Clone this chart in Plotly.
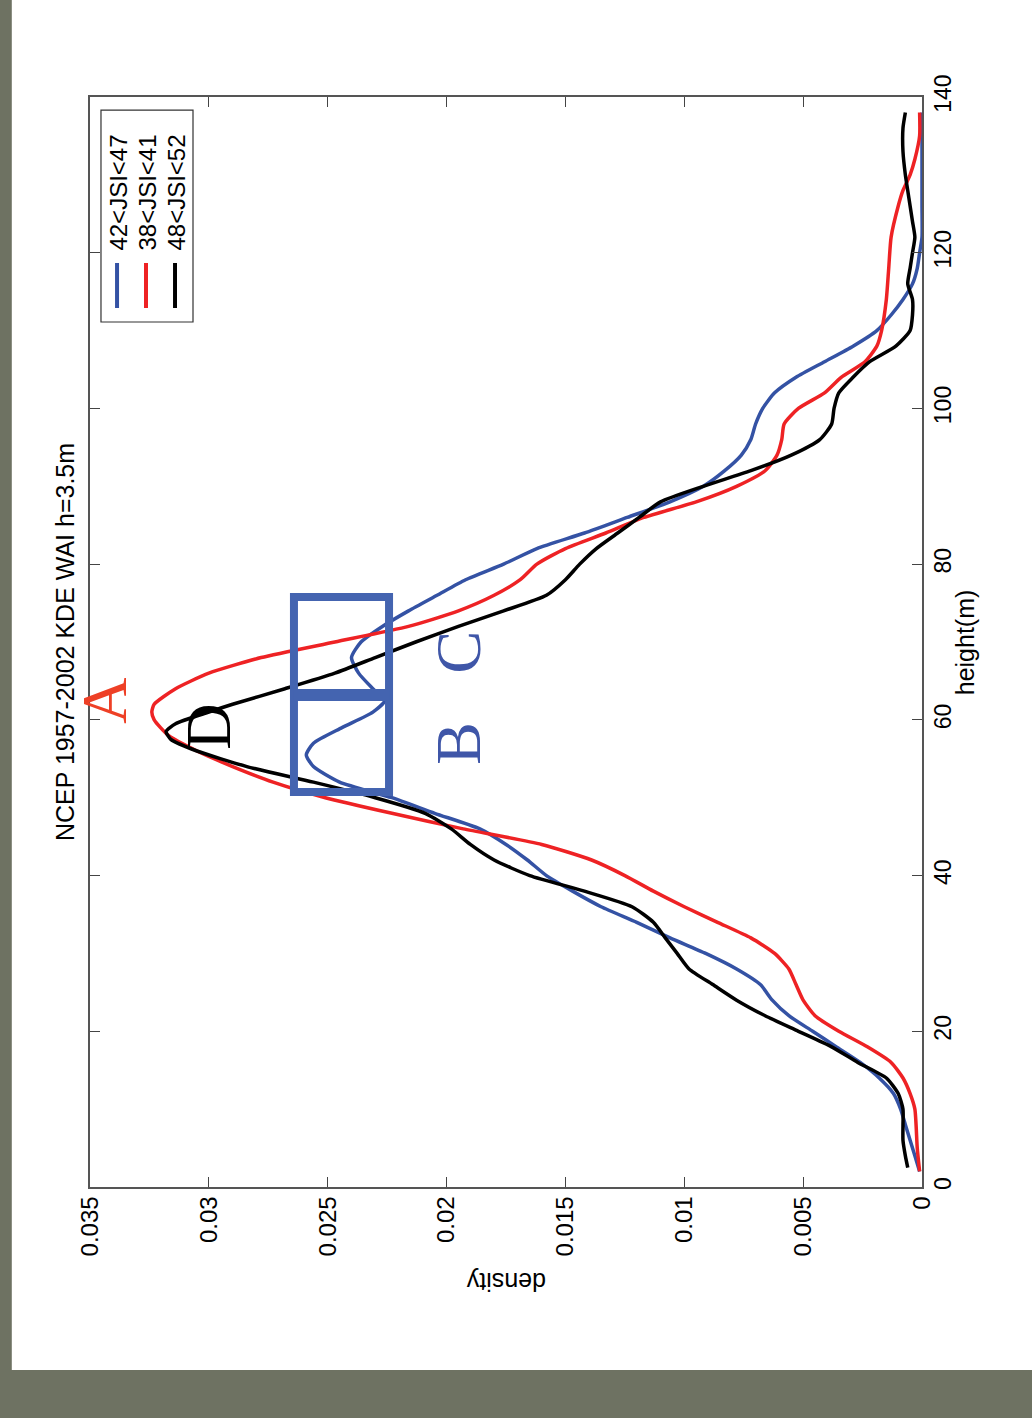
import plotly.graph_objects as go

# ---- data (height in m, density) ----
blue_h = [2, 4, 6, 8, 10, 12, 14, 16, 18, 20, 22, 24, 26, 28, 30, 32, 34, 36, 38, 40, 42, 44, 46, 48, 50, 52, 54, 55.5, 57, 59, 61, 62.5, 64, 66, 68, 70, 72, 74, 76, 78, 80, 82, 84, 86, 88, 90, 92, 94, 96, 98, 100, 102, 104, 106, 108, 110, 112, 114, 116, 118, 120, 122, 126, 130, 134, 138]
blue_d = [0.0001, 0.0003, 0.0005, 0.0007, 0.0009, 0.0012, 0.0018, 0.0026, 0.0036, 0.0046, 0.0056, 0.0063, 0.0068, 0.0078, 0.0091, 0.0106, 0.0120, 0.0135, 0.0147, 0.0158, 0.0166, 0.0175, 0.0186, 0.0205, 0.0223, 0.0245, 0.0256, 0.0259, 0.0256, 0.0244, 0.0231, 0.0226, 0.0231, 0.0237, 0.0240, 0.0236, 0.0227, 0.0216, 0.0204, 0.0192, 0.0176, 0.0162, 0.0142, 0.0124, 0.0106, 0.0092, 0.0083, 0.0076, 0.0072, 0.0070, 0.0067, 0.0062, 0.0053, 0.0041, 0.0029, 0.0019, 0.0013, 0.0008, 0.0004, 0.0002, 0.0001, 0.0, 0.0, 0.0, 0.0, 0.0]

red_h = [2, 5, 10, 12, 14, 16, 18, 20, 22, 24, 26, 28, 30, 32, 34, 36, 38, 40, 42, 44, 46, 48, 50, 52, 54, 56, 58, 60, 61, 62, 64, 66, 68, 70, 72, 74, 76, 78, 80, 82, 84, 86, 88, 90, 92, 94, 96, 98, 100, 102, 104, 106, 108, 110, 114, 118, 122, 126, 128, 130, 132, 135, 138]
red_d = [0.0001, 0.0002, 0.0003, 0.0005, 0.0008, 0.0013, 0.0023, 0.0035, 0.0045, 0.0050, 0.0053, 0.0056, 0.0062, 0.0072, 0.0086, 0.0100, 0.0113, 0.0125, 0.0139, 0.0160, 0.0193, 0.0223, 0.0251, 0.0273, 0.0290, 0.0305, 0.0317, 0.0323, 0.0324, 0.0323, 0.0314, 0.0300, 0.0278, 0.0247, 0.0216, 0.0195, 0.0180, 0.0169, 0.0162, 0.0150, 0.0133, 0.0117, 0.0095, 0.0078, 0.0066, 0.0061, 0.0059, 0.0058, 0.0052, 0.0041, 0.0034, 0.0024, 0.0019, 0.0017, 0.0015, 0.0014, 0.0013, 0.0010, 0.0008, 0.0005, 0.0003, 0.0001, 0.0001]

black_h = [2.5, 4, 6, 8, 10, 12, 14, 16, 18, 20, 22, 24, 26, 28, 30, 32, 34, 36, 38, 40, 42, 44, 46, 48, 50, 52, 54, 56, 57.5, 58.5, 59.5, 61, 62, 64, 66, 68, 70, 72, 74, 76, 78, 80, 82, 84, 86, 88, 90, 92, 94, 96, 98, 100, 102, 104, 106, 108, 110, 112, 114, 116, 118, 120, 122, 124, 126, 128, 130, 133, 136, 138]
black_d = [0.0006, 0.0007, 0.0008, 0.0008, 0.0008, 0.0010, 0.0015, 0.0027, 0.0038, 0.0052, 0.0066, 0.0078, 0.0088, 0.0098, 0.0103, 0.0108, 0.0113, 0.0122, 0.0142, 0.0165, 0.0180, 0.0190, 0.0198, 0.0209, 0.0230, 0.0256, 0.0284, 0.0305, 0.0316, 0.0318, 0.0314, 0.0300, 0.0290, 0.0268, 0.0247, 0.0230, 0.0213, 0.0195, 0.0176, 0.0158, 0.0150, 0.0144, 0.0137, 0.0128, 0.0119, 0.0110, 0.0092, 0.0072, 0.0055, 0.0043, 0.0038, 0.0037, 0.0035, 0.0029, 0.0022, 0.0011, 0.0005, 0.0004, 0.0004, 0.0006, 0.0005, 0.0004, 0.0003, 0.0004, 0.0005, 0.0006, 0.0007, 0.0008, 0.0008, 0.0007]

series_names = ["42<JSI<47", "38<JSI<41", "48<JSI<52"]
series_colors = ["#3452a4", "#ee2224", "#000000"]

density_ticks = [0.035, 0.03, 0.025, 0.02, 0.015, 0.01, 0.005, 0]
density_ticktext = ["0.035", "0.03", "0.025", "0.02", "0.015", "0.01", "0.005", "0"]
height_ticks = [0, 20, 40, 60, 80, 100, 120, 140]

title_text = "NCEP 1957-2002 KDE WAI h=3.5m"
xlabel = "height(m)"
ylabel = "density"

# annotation letters (density, height)
letters = [("A", 0.0344, 62.5, "#ee4026"), ("D", 0.0300, 59.1, "#000000"),
           ("B", 0.0195, 57.0, "#3f56a8"), ("C", 0.0195, 68.7, "#3f56a8")]
box_d = [0.02642, 0.02242]
box_h = [50.73, 63.2, 75.78]

FONT = "Liberation Sans, Arial, sans-serif"
GRAY = "#6e7262"
BOXBLUE = "#4464b0"

fig = go.Figure()
for h, d, c in [(blue_h, blue_d, series_colors[0]), (red_h, red_d, series_colors[1]), (black_h, black_d, series_colors[2])]:
    fig.add_trace(go.Scatter(x=d, y=h, mode="lines", showlegend=False, hoverinfo="skip",
                             line=dict(color=c, width=3.5, shape="spline", smoothing=0.6)))

shapes = []
# white page over gray background
shapes.append(dict(type="rect", xref="paper", yref="paper", x0=-0.094, x1=1.14, y0=-0.168, y1=1.1,
                   fillcolor="white", line=dict(width=0), layer="below"))
# blue boxes
shapes.append(dict(type="rect", xref="x", yref="y", x0=box_d[0], x1=box_d[1], y0=box_h[0], y1=box_h[2],
                   line=dict(color=BOXBLUE, width=8)))
shapes.append(dict(type="line", xref="x", yref="y", x0=box_d[0], x1=box_d[1], y0=box_h[1], y1=box_h[1],
                   line=dict(color=BOXBLUE, width=12)))
# legend box
shapes.append(dict(type="rect", xref="paper", yref="paper", x0=0.0132, x1=0.1238, y0=0.7936, y1=0.988,
                   line=dict(color="#333333", width=1.2), fillcolor="white"))
leg_x = [0.0325, 0.0673, 0.1022]
for lx, c in zip(leg_x, series_colors):
    shapes.append(dict(type="line", xref="paper", yref="paper", x0=lx, x1=lx, y0=0.8064, y1=0.8477,
                       line=dict(color=c, width=4)))

annotations = []
for lx, name in zip(leg_x, series_names):
    annotations.append(dict(text=name, xref="paper", yref="paper", x=lx + 0.002, y=0.857,
                            xanchor="center", yanchor="bottom", textangle=-90, showarrow=False,
                            font=dict(family=FONT, size=24, color="black")))
for t, d, h, c in letters:
    annotations.append(dict(text=t, xref="x", yref="y", x=d, y=h, textangle=-90, showarrow=False,
                            xanchor="center", yanchor="middle",
                            font=dict(family="Liberation Serif, Times New Roman, serif", size=64, color=c)))
annotations.append(dict(text=title_text, xref="paper", yref="paper", x=-0.030, y=0.5, textangle=-90,
                        showarrow=False, xanchor="center", yanchor="middle",
                        font=dict(family=FONT, size=25, color="black")))
annotations.append(dict(text=xlabel, xref="paper", yref="paper", x=1.052, y=0.5, textangle=-90,
                        showarrow=False, xanchor="center", yanchor="middle",
                        font=dict(family=FONT, size=25, color="black")))
annotations.append(dict(text=ylabel, xref="paper", yref="paper", x=0.5, y=-0.087, textangle=180,
                        showarrow=False, xanchor="center", yanchor="middle",
                        font=dict(family=FONT, size=25, color="black")))

fig.update_layout(
    width=1032, height=1418,
    margin=dict(l=90, r=110, t=97, b=231, pad=0),
    paper_bgcolor=GRAY, plot_bgcolor="white",
    shapes=shapes, annotations=annotations, showlegend=False,
    xaxis=dict(range=[0.035, 0], tickvals=density_ticks, ticktext=density_ticktext, tickangle=-90,
               ticks="inside", ticklen=10, tickcolor="#444", showline=True, linecolor="#555", linewidth=1.5,
               mirror="ticks", showgrid=False, zeroline=False, ticklabelstandoff=-2,
               tickfont=dict(family=FONT, size=24, color="black")),
    yaxis=dict(range=[0, 140], tickvals=height_ticks, tickangle=-90, side="right",
               ticks="inside", ticklen=10, tickcolor="#444", showline=True, linecolor="#555", linewidth=1.5,
               mirror="ticks", showgrid=False, zeroline=False,
               tickfont=dict(family=FONT, size=23, color="black")),
)

fig.write_html("out.html", config={"displayModeBar": False},
               post_script="document.body.style.margin='0';document.body.style.background='" + GRAY + "';")
